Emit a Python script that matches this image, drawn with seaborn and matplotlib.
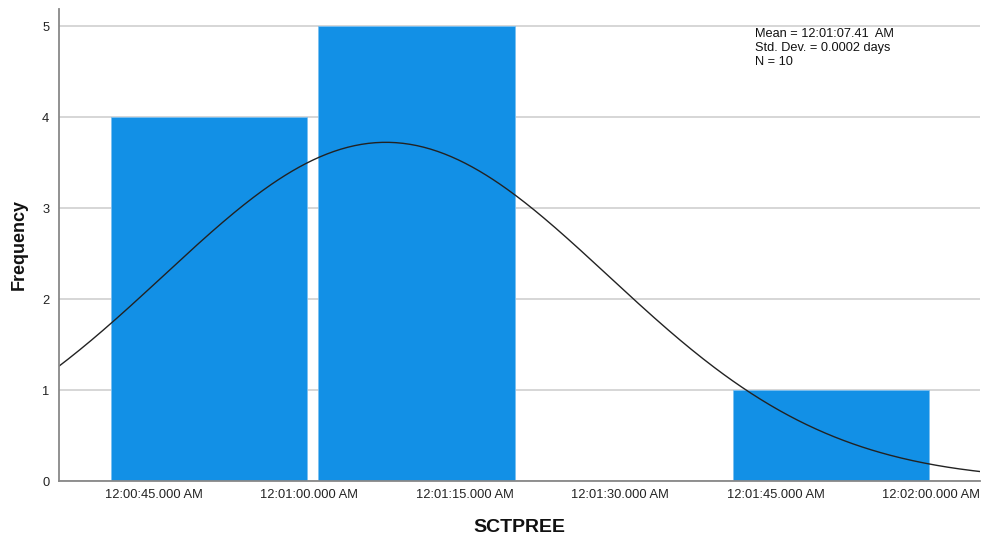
import numpy as np
import pandas as pd
import matplotlib
matplotlib.use("Agg")
import matplotlib.pyplot as plt
import seaborn as sns
from matplotlib.ticker import FuncFormatter

# Histogram of SCTPREE (seconds after 12:00:00 AM)
bin_edges = [40.35, 60.35, 80.35, 100.35, 120.35]
bin_counts = [4, 5, 0, 1]
mean_sec = 67.41
sd_days = 0.000248
n_obs = 10
tick_secs = [45, 60, 75, 90, 105, 120]
y_ticks = [0, 1, 2, 3, 4, 5]

sd_sec = sd_days * 86400.0
bin_width = bin_edges[1] - bin_edges[0]
centers = [(a + b) / 2 for a, b in zip(bin_edges[:-1], bin_edges[1:])]
df = pd.DataFrame({"SCTPREE": centers, "count": bin_counts})

sns.set_theme(style="white")
plt.rcParams["font.family"] = ["Liberation Sans", "DejaVu Sans"]

fig = plt.figure(figsize=(9.85, 5.42), dpi=100)
ax = fig.add_axes([0.0599, 0.1125, 0.935, 0.871])

ax.set_axisbelow(True)
ax.yaxis.grid(True, color="#d3d3d3", linewidth=1.3)
ax.xaxis.grid(False)

sns.histplot(data=df, x="SCTPREE", weights="count", bins=bin_edges,
             shrink=0.947, color="#1290e6", edgecolor="#7cc0f0",
             linewidth=0.6, alpha=1.0, ax=ax)

# Normal curve scaled to frequency
xs = np.linspace(35.9, 124.7, 400)
ys = n_obs * bin_width / (sd_sec * np.sqrt(2 * np.pi)) * np.exp(-0.5 * ((xs - mean_sec) / sd_sec) ** 2)
sns.lineplot(x=xs, y=ys, color="#222222", linewidth=1.0, ax=ax)

ax.set_xlim(35.9, 124.7)
ax.set_ylim(0, 5.19)
ax.set_yticks(y_ticks)
ax.set_xticks(tick_secs)


def fmt_time(s, _pos=None):
    m = int(s // 60)
    sec = s - m * 60
    return f"12:{m:02d}:{sec:06.3f} AM"


ax.xaxis.set_major_formatter(FuncFormatter(fmt_time))
ax.tick_params(axis="both", length=0, labelsize=9.3, colors="#222222")
ax.tick_params(axis="x", pad=6)
ax.tick_params(axis="y", pad=7)

for side in ["top", "right"]:
    ax.spines[side].set_visible(False)
for side in ["left", "bottom"]:
    ax.spines[side].set_color("#888888")
    ax.spines[side].set_linewidth(1.3)

ax.set_xlabel("SCTPREE", fontsize=14, fontweight="bold", labelpad=13, color="#111111")
ax.set_ylabel("Frequency", fontsize=13, fontweight="bold", labelpad=10, color="#111111")

mm = int(mean_sec // 60)
ss = mean_sec - mm * 60
stats_text = (f"Mean = 12:{mm:02d}:{ss:05.2f}  AM\n"
              f"Std. Dev. = {sd_days:.4f} days\n"
              f"N = {n_obs}")
fig.text(755 / 985, 1 - 28 / 542, stats_text, ha="left", va="top",
         fontsize=9.2, linespacing=1.2, color="#111111")

fig.savefig("out.png", dpi=100)
